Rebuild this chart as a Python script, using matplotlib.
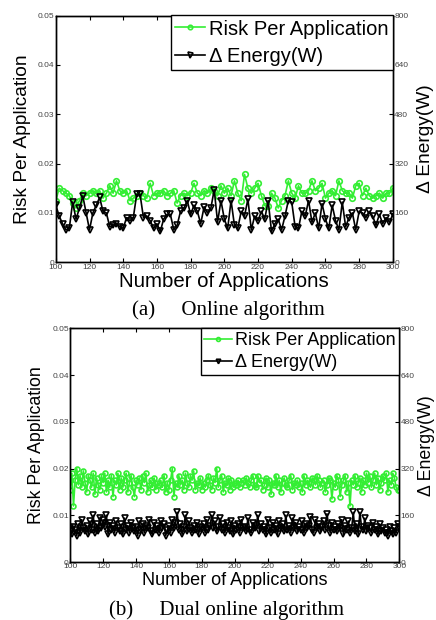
import numpy as np
import matplotlib
matplotlib.use("Agg")
import matplotlib.pyplot as plt
from matplotlib.ticker import FixedLocator, FixedFormatter

plt.rcParams['font.family'] = ['Liberation Sans', 'DejaVu Sans']

# panel (a): online algorithm, one sample every 2 applications
apps_a = np.arange(100, 301, 2)
risk_a = [0.0125, 0.0150, 0.0145, 0.0140, 0.0135, 0.0120, 0.0110, 0.0125, 0.0140, 0.0135,
          0.0140, 0.0145, 0.0140, 0.0145, 0.0130, 0.0140, 0.0155, 0.0140, 0.0165, 0.0145,
          0.0140, 0.0145, 0.0125, 0.0130, 0.0135, 0.0140, 0.0135, 0.0130, 0.0160, 0.0135,
          0.0140, 0.0140, 0.0145, 0.0135, 0.0140, 0.0145, 0.0120, 0.0135, 0.0140, 0.0135,
          0.0140, 0.0160, 0.0140, 0.0135, 0.0145, 0.0140, 0.0150, 0.0145, 0.0135, 0.0155,
          0.0140, 0.0150, 0.0135, 0.0165, 0.0140, 0.0125, 0.0178, 0.0150, 0.0140, 0.0150,
          0.0160, 0.0135, 0.0115, 0.0115, 0.0140, 0.0130, 0.0110, 0.0125, 0.0135, 0.0165,
          0.0140, 0.0130, 0.0155, 0.0140, 0.0140, 0.0145, 0.0165, 0.0145, 0.0150, 0.0160,
          0.0130, 0.0140, 0.0145, 0.0135, 0.0165, 0.0145, 0.0140, 0.0140, 0.0130, 0.0155,
          0.0160, 0.0135, 0.0150, 0.0135, 0.0130, 0.0135, 0.0140, 0.0130, 0.0140, 0.0140,
          0.0150]
energy_a = [185, 150, 125, 105, 110, 195, 140, 175, 215, 160,
            105, 160, 185, 210, 165, 160, 115, 120, 125, 115,
            110, 145, 135, 145, 220, 220, 145, 150, 135, 110,
            125, 100, 140, 155, 155, 105, 120, 165, 175, 200,
            155, 185, 165, 125, 180, 160, 175, 235, 130, 200,
            140, 110, 200, 120, 110, 165, 150, 205, 105, 150,
            135, 165, 140, 200, 100, 125, 140, 105, 150, 200,
            195, 115, 110, 165, 150, 200, 130, 160, 110, 190,
            140, 110, 185, 135, 105, 195, 115, 145, 160, 105,
            165, 160, 145, 165, 150, 120, 155, 125, 145, 130,
            155]

# panel (b): dual online algorithm, every application
apps_b = np.arange(100, 301, 1)
risk_b = [0.0155, 0.0190, 0.0120, 0.0175, 0.0200, 0.0165, 0.0185, 0.0160, 0.0195, 0.0170,
          0.0150, 0.0185, 0.0175, 0.0160, 0.0190, 0.0145, 0.0180, 0.0165, 0.0155, 0.0185,
          0.0170, 0.0190, 0.0150, 0.0175, 0.0160, 0.0185, 0.0140, 0.0175, 0.0165, 0.0190,
          0.0155, 0.0180, 0.0160, 0.0175, 0.0190, 0.0150, 0.0170, 0.0185, 0.0160, 0.0140,
          0.0175, 0.0165, 0.0180, 0.0155, 0.0185, 0.0170, 0.0190, 0.0150, 0.0165, 0.0175,
          0.0160, 0.0180, 0.0155, 0.0170, 0.0165, 0.0175, 0.0160, 0.0185, 0.0150, 0.0170,
          0.0155, 0.0175, 0.0200, 0.0140, 0.0170, 0.0160, 0.0185, 0.0165, 0.0175, 0.0155,
          0.0190, 0.0170, 0.0160, 0.0185, 0.0175, 0.0195, 0.0155, 0.0170, 0.0165, 0.0180,
          0.0155, 0.0170, 0.0160, 0.0175, 0.0185, 0.0165, 0.0155, 0.0180, 0.0170, 0.0200,
          0.0160, 0.0175, 0.0185, 0.0150, 0.0170, 0.0165, 0.0180, 0.0155, 0.0175, 0.0160,
          0.0170, 0.0165, 0.0175, 0.0160, 0.0170, 0.0175, 0.0165, 0.0180, 0.0170, 0.0160,
          0.0175, 0.0185, 0.0165, 0.0160, 0.0185, 0.0170, 0.0175, 0.0155, 0.0165, 0.0180,
          0.0160, 0.0175, 0.0145, 0.0170, 0.0165, 0.0185, 0.0160, 0.0175, 0.0150, 0.0170,
          0.0180, 0.0165, 0.0160, 0.0175, 0.0185, 0.0155, 0.0170, 0.0165, 0.0175, 0.0160,
          0.0170, 0.0150, 0.0185, 0.0165, 0.0175, 0.0170, 0.0160, 0.0180, 0.0175, 0.0165,
          0.0185, 0.0175, 0.0160, 0.0170, 0.0175, 0.0150, 0.0165, 0.0180, 0.0175, 0.0135,
          0.0170, 0.0160, 0.0185, 0.0175, 0.0140, 0.0165, 0.0175, 0.0185, 0.0150, 0.0170,
          0.0120, 0.0175, 0.0165, 0.0185, 0.0160, 0.0170, 0.0180, 0.0150, 0.0175, 0.0165,
          0.0190, 0.0170, 0.0185, 0.0160, 0.0175, 0.0190, 0.0165, 0.0180, 0.0155, 0.0170,
          0.0185, 0.0175, 0.0190, 0.0150, 0.0175, 0.0165, 0.0190, 0.0180, 0.0160, 0.0155,
          0.0155]
energy_b = [115, 95, 120, 110, 90, 130, 100, 145, 115, 105,
            125, 95, 140, 110, 160, 100, 130, 105, 150, 115,
            145, 120, 160, 95, 135, 110, 125, 100, 140, 115,
            105, 130, 95, 150, 110, 125, 100, 135, 115, 105,
            120, 90, 140, 110, 130, 100, 125, 115, 145, 105,
            95, 135, 110, 125, 100, 140, 115, 130, 90, 110,
            125, 100, 145, 115, 135, 170, 110, 130, 95, 120,
            160, 105, 140, 115, 100, 125, 110, 135, 95, 120,
            115, 130, 100, 145, 110, 125, 160, 115, 140, 105,
            120, 150, 110, 130, 100, 135, 115, 105, 140, 95,
            125, 110, 130, 100, 145, 115, 120, 105, 150, 110,
            100, 135, 115, 125, 160, 105, 130, 110, 120, 95,
            145, 115, 100, 135, 110, 125, 95, 140, 115, 130,
            105, 160, 110, 125, 100, 150, 115, 135, 105, 120,
            110, 140, 100, 130, 115, 125, 155, 110, 100, 145,
            115, 130, 105, 120, 140, 110, 165, 125, 100, 135,
            110, 120, 105, 130, 115, 145, 95, 125, 110, 140,
            100, 115, 170, 105, 130, 95, 170, 120, 110, 150,
            105, 125, 115, 100, 135, 110, 120, 95, 130, 105,
            115, 100, 110, 90, 120, 105, 95, 115, 100, 130,
            120]

x_ticks = list(range(100, 301, 20))
risk_ticks = [0, 0.01, 0.02, 0.03, 0.04, 0.05]
risk_labels = ["0", "0.01", "0.02", "0.03", "0.04", "0.05"]
energy_ticks = [0, 160, 320, 480, 640, 800]
energy_labels = ["0", "160", "320", "480", "640", "800"]

GREEN = "#33ee33"
TICK_COL = "#444444"


def panel(fig, rect, x, risk, energy, xl_fs, yl_fs, rpad, leg_fs, leg_sp, ms, caption, cap_xy):
    ax = fig.add_axes(rect)
    ax2 = ax.twinx()
    l1, = ax.plot(x, risk, "-o", color=GREEN, lw=1.2, ms=ms, mfc="none", mew=1.2,
                  label="Risk Per Application")
    l2, = ax2.plot(x, energy, "-v", color="black", lw=1.2, ms=ms + 0.5, mfc="none", mew=1.2,
                   label="\u0394 Energy(W)")
    ax.set_xlim(100, 300); ax.set_ylim(0, 0.05); ax2.set_ylim(0, 800)
    ax.xaxis.set_major_locator(FixedLocator(x_ticks))
    ax.yaxis.set_major_locator(FixedLocator(risk_ticks))
    ax.yaxis.set_major_formatter(FixedFormatter(risk_labels))
    ax2.yaxis.set_major_locator(FixedLocator(energy_ticks))
    ax2.yaxis.set_major_formatter(FixedFormatter(energy_labels))
    ax.tick_params(axis="both", direction="in", length=3, width=0.8, labelsize=6,
                   labelcolor=TICK_COL, pad=1, top=True)
    ax.tick_params(axis="y", right=False)
    ax2.tick_params(axis="y", direction="in", length=3, width=0.8, labelsize=6,
                    labelcolor=TICK_COL, pad=1)
    for a in (ax, ax2):
        for s in a.spines.values():
            s.set_linewidth(1.0)
    ax.set_xlabel("Number of Applications", fontsize=xl_fs, labelpad=1)
    ax.set_ylabel("Risk Per Application", fontsize=yl_fs, labelpad=5)
    ax2.set_ylabel("\u0394 Energy(W)", fontsize=yl_fs, rotation=90, labelpad=rpad)
    leg = ax2.legend([l1, l2], [l1.get_label(), l2.get_label()], loc="upper right",
                     fontsize=leg_fs, handlelength=1.5, handletextpad=0.2, borderpad=0.2,
                     labelspacing=leg_sp, borderaxespad=0, fancybox=False, framealpha=1,
                     edgecolor="black", markerscale=0.8)
    leg.get_frame().set_linewidth(1.0)
    fig.text(cap_xy[0], cap_xy[1], caption, ha="center", va="center",
             fontsize=15, family=["Liberation Serif", "DejaVu Serif"])
    return ax, ax2


fig = plt.figure(figsize=(4.36, 6.2), dpi=100)
panel(fig, [0.128, 0.577, 0.773, 0.398], apps_a, risk_a, energy_a, 14.7, 13.8, 6, 14.5, 0.4, 4.0,
      "(a)     Online algorithm", (0.523, 0.500))
panel(fig, [0.161, 0.0935, 0.755, 0.377], apps_b, risk_b, energy_b, 13, 12.8, 2, 13, 0.3, 3.5,
      "(b)     Dual online algorithm", (0.519, 0.016))

fig.savefig("out.png", dpi=100)
